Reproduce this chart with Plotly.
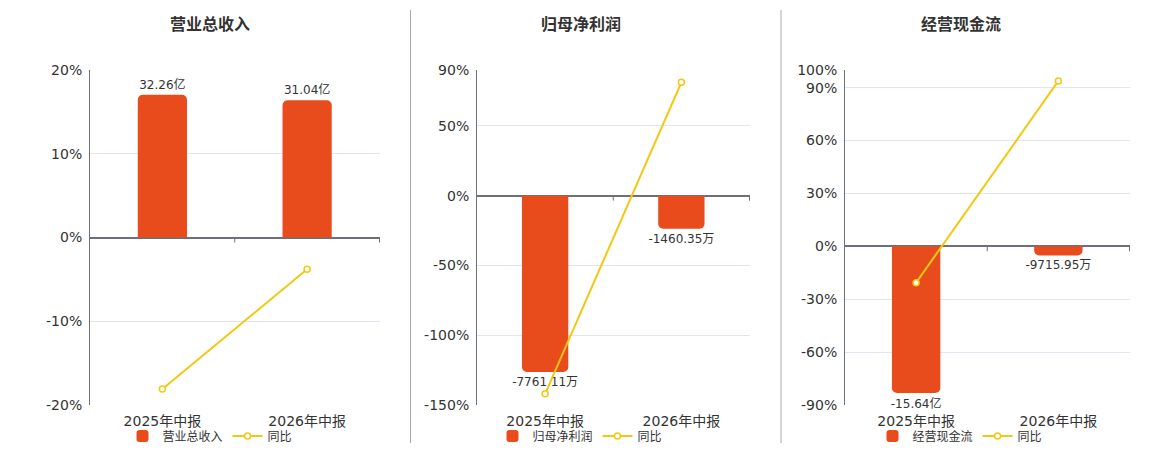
import plotly.graph_objects as go

periods = ["2025年中报", "2026年中报"]

# bar values in 万元, labels as shown on the chart
revenue = [322600, 310400]
revenue_labels = ["32.26亿", "31.04亿"]
revenue_yoy = [-18.1, -3.78]

net_profit = [-7761.11, -1460.35]
net_profit_labels = ["-7761.11万", "-1460.35万"]
net_profit_yoy = [-142.0, 81.18]

cash_flow = [-156400, -9715.95]
cash_flow_labels = ["-15.64亿", "-9715.95万"]
cash_flow_yoy = [-20.6, 93.79]

titles = ["营业总收入", "归母净利润", "经营现金流"]

BAR = "#e84c1d"
LINE = "#f2c811"
TXT = "#333333"
AXIS = "#6e7079"
GRID = "#e0e6f1"
FONT = "DejaVu Sans, Noto Sans CJK SC, sans-serif"

W, H = 1160, 450
ydom = [1 - 405 / H, 1 - 70 / H]

panels = [
    dict(name=titles[0], bars=revenue, labels=revenue_labels, yoy=revenue_yoy,
         xdom=[90, 380], bar_range=[-378700, 378700], pct_range=[-20, 20],
         pct_ticks=[-20, -10, 0, 10, 20], title_x=210, legend_x=210),
    dict(name=titles[1], bars=net_profit, labels=net_profit_labels, yoy=net_profit_yoy,
         xdom=[477, 750], bar_range=[-9216, 5530], pct_range=[-150, 90],
         pct_ticks=[-150, -100, -50, 0, 50, 90], title_x=581, legend_x=580),
    dict(name=titles[2], bars=cash_flow, labels=cash_flow_labels, yoy=cash_flow_yoy,
         xdom=[845, 1130], bar_range=[-169100, 187900], pct_range=[-90, 100],
         pct_ticks=[-90, -60, -30, 0, 30, 60, 90, 100], title_x=961, legend_x=960),
]

fig = go.Figure()
layout = dict(
    width=W, height=H, autosize=False,
    margin=dict(l=0, r=0, t=0, b=0, autoexpand=False),
    paper_bgcolor="white", plot_bgcolor="white",
    font=dict(family=FONT, color=TXT, size=12),
    showlegend=True,
    annotations=[], shapes=[],
)

for i, p in enumerate(panels):
    n = i + 1
    xa = "x" if n == 1 else f"x{n}"
    yb = "y" if n == 1 else f"y{2 * n - 1}"
    yp = f"y{2 * n}"
    lg = "legend" if n == 1 else f"legend{n}"

    fig.add_trace(go.Bar(
        x=periods, y=p["bars"], text=p["labels"], textposition="outside",
        textfont=dict(size=12, color=TXT), cliponaxis=False, constraintext="none",
        marker=dict(color=BAR, cornerradius=5, line=dict(width=0)),
        width=0.34, name=p["name"], xaxis=xa, yaxis=yb, legend=lg,
    ))
    fig.add_trace(go.Scatter(
        x=periods, y=p["yoy"], mode="lines+markers", name="同比",
        line=dict(color=LINE, width=2),
        marker=dict(symbol="circle", size=6, color="white", line=dict(color=LINE, width=1.5)),
        xaxis=xa, yaxis=yp, legend=lg, cliponaxis=False,
    ))

    xkey = "xaxis" if n == 1 else f"xaxis{n}"
    ybkey = "yaxis" if n == 1 else f"yaxis{2 * n - 1}"
    ypkey = f"yaxis{2 * n}"
    layout[xkey] = dict(
        domain=[p["xdom"][0] / W, p["xdom"][1] / W], anchor=yb,
        type="category", showline=False, showgrid=False, ticks="",
        tickfont=dict(size=14, color=TXT), ticklabelstandoff=6,
    )
    layout[ybkey] = dict(domain=ydom, anchor=xa, range=p["bar_range"], visible=False)
    layout[ypkey] = dict(
        overlaying=yb, anchor=xa, side="left", range=p["pct_range"],
        tickmode="array", tickvals=p["pct_ticks"],
        ticktext=[f"{v}%" for v in p["pct_ticks"]],
        showline=True, linecolor=AXIS, linewidth=1,
        showgrid=True, gridcolor=GRID, gridwidth=1,
        zeroline=True, zerolinecolor=AXIS, zerolinewidth=2,
        ticks="", tickfont=dict(size=14, color=TXT), ticklabelstandoff=4,
    )
    layout[lg] = dict(
        orientation="h", x=p["legend_x"] / W, xanchor="center",
        y=1 - 436 / H, yanchor="middle",
        font=dict(size=12, color=TXT), bgcolor="rgba(0,0,0,0)",
        itemwidth=30, tracegroupgap=0,
    )
    layout["annotations"].append(dict(
        text=f"<b>{p['name']}</b>", x=p["title_x"] / W, y=1 - 23 / H,
        xref="paper", yref="paper", showarrow=False,
        xanchor="center", yanchor="middle",
        font=dict(size=16, color=TXT, family="Noto Sans CJK SC"),
    ))
    # small ticks under the zero axis at category boundaries
    for b in [0.5, 1.5]:
        layout["shapes"].append(dict(
            type="line", xref=xa, yref=yp, x0=b, x1=b,
            ysizemode="pixel", yanchor=0, y0=0, y1=-5,
            line=dict(color=AXIS, width=1),
        ))

# separators between panels
for sx in [410.5, 781]:
    layout["shapes"].append(dict(
        type="line", xref="paper", yref="paper",
        x0=sx / W, x1=sx / W, y0=1 - 443 / H, y1=1 - 10 / H,
        line=dict(color="#aaaaaa", width=1),
    ))

fig.update_layout(**layout)
fig.write_html("out.html", config={"displayModeBar": False},
               post_script="document.body.style.margin='0';")
